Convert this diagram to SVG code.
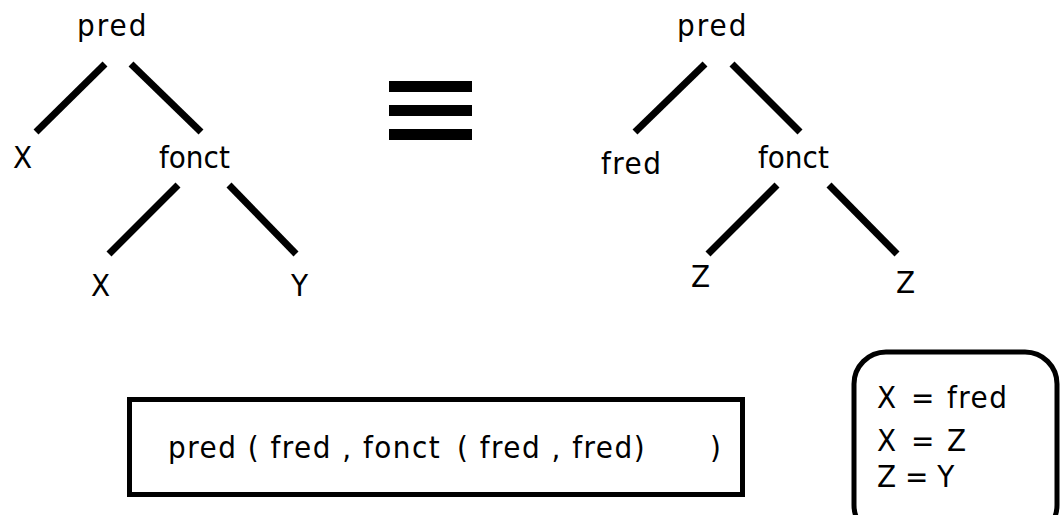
<svg xmlns="http://www.w3.org/2000/svg" width="1062" height="515" viewBox="0 0 1062 515">
<style>
text{font-family:"DejaVu Sans Condensed","DejaVu Sans",sans-serif;font-stretch:condensed;font-size:31px;fill:#000}
.edge{stroke:#000;stroke-width:7;stroke-linecap:butt;fill:none}
.sp{letter-spacing:2px}
.sp1{letter-spacing:1.5px}
</style>
<rect width="1062" height="515" fill="#fff"/>
<g id="connectors">
<line class="edge" x1="105" y1="64" x2="36" y2="132"/>
<line class="edge" x1="131" y1="64" x2="201" y2="132"/>
<line class="edge" x1="178" y1="185" x2="109" y2="254"/>
<line class="edge" x1="229" y1="185" x2="296" y2="254"/>
<line class="edge" x1="705" y1="64" x2="635" y2="132"/>
<line class="edge" x1="732" y1="64" x2="800" y2="132"/>
<line class="edge" x1="777" y1="185" x2="708" y2="254"/>
<line class="edge" x1="829" y1="185" x2="897" y2="254"/>
</g>
<g id="left-pred"><text class="sp" x="77" y="36">pred</text></g>
<g id="left-X"><text x="13" y="168">X</text></g>
<g id="left-fonct"><text x="159" y="168">fonct</text></g>
<g id="left-X2"><text x="91" y="296">X</text></g>
<g id="left-Y"><text x="291" y="296">Y</text></g>
<g id="equiv">
<rect x="389" y="81" width="83" height="11"/>
<rect x="389" y="105" width="83" height="11"/>
<rect x="389" y="129" width="83" height="11"/>
</g>
<g id="right-pred"><text class="sp" x="677" y="36">pred</text></g>
<g id="right-fred"><text class="sp1" x="601" y="174">fred</text></g>
<g id="right-fonct"><text x="758" y="168">fonct</text></g>
<g id="right-Z1"><text x="691" y="287">Z</text></g>
<g id="right-Z2"><text x="896" y="293">Z</text></g>
<g id="term-box">
<rect x="129.5" y="399.5" width="613" height="95" fill="none" stroke="#000" stroke-width="5"/>
<text class="sp1" x="168" y="458">pred ( fred , fonct<tspan x="457">( fred , fred)</tspan><tspan x="710">)</tspan></text>
</g>
<g id="subst-box">
<rect x="854" y="352" width="203" height="185" rx="32" fill="none" stroke="#000" stroke-width="5"/>
<text x="877" y="408">X<tspan x="911">=</tspan><tspan class="sp1" x="947">fred</tspan></text>
<text x="877" y="451">X<tspan x="911">=</tspan><tspan x="947">Z</tspan></text>
<text x="877" y="487">Z = Y</text>
</g>
</svg>
